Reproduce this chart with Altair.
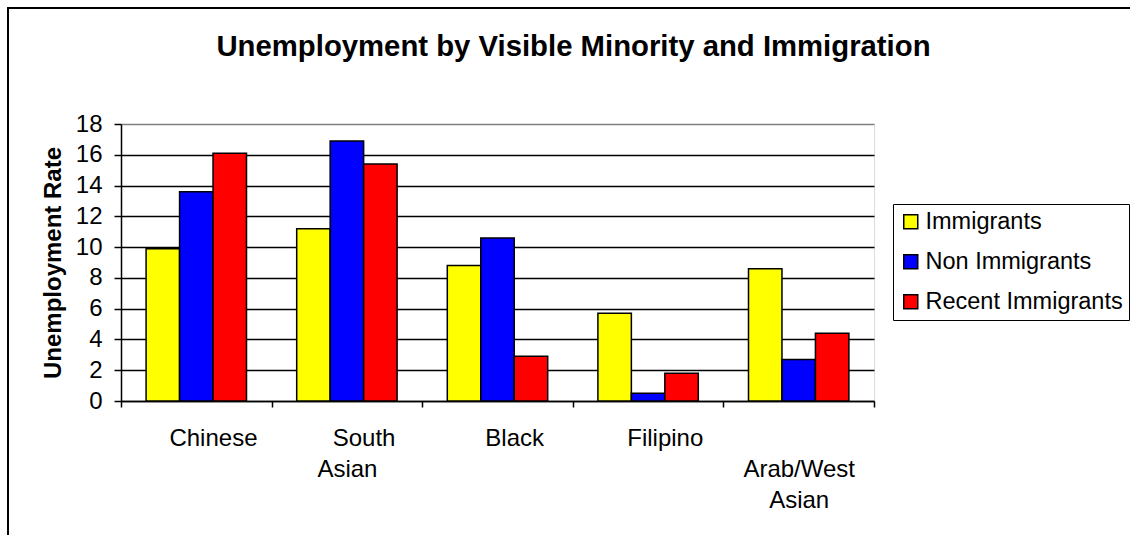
import altair as alt
import pandas as pd

categories = ["Chinese", "South Asian", "Black", "Filipino", "Arab/West Asian"]
series = ["Immigrants", "Non Immigrants", "Recent Immigrants"]
immigrants = [9.9, 11.2, 8.8, 5.7, 8.6]
non_immigrants = [13.6, 16.9, 10.6, 0.5, 2.7]
recent_immigrants = [16.1, 15.4, 2.9, 1.8, 4.4]
y_ticks = [0, 2, 4, 6, 8, 10, 12, 14, 16, 18]
colors = ["#FFFF00", "#0000FF", "#FF0000"]

rows = []
for i, c in enumerate(categories):
    for s, vals in zip(series, [immigrants, non_immigrants, recent_immigrants]):
        rows.append({"group": c, "series": s, "rate": vals[i]})
df = pd.DataFrame(rows)

W, H = 753, 277
LEFT, TOP = 121, 124
FONT = "Liberation Sans"

# zero-width space keeps the leading non-breaking spaces from being trimmed
nb = "\u200b" + "\u00a0" * 5
label_expr = (
    "!isValid(datum.value) ? '' : "
    "datum.value == 'South Asian' ? ['" + nb + "South', 'Asian'] : "
    "datum.value == 'Arab/West Asian' ? ['\u200b', 'Arab/West', 'Asian'] : '"
    + nb + "' + datum.value"
)

bars = alt.Chart(df).mark_bar(stroke="black", strokeWidth=1.5).encode(
    x=alt.X(
        "group:N", sort=categories, title=None,
        scale=alt.Scale(paddingInner=0, paddingOuter=0),
        axis=alt.Axis(
            labelExpr=label_expr, labelAngle=0, labelFontSize=24, labelFont=FONT,
            labelColor="black", labelPadding=19, labelLineHeight=31,
            labelOverlap=False, tickBand="extent", tickSize=6, tickColor="black",
            tickWidth=1.5, domainColor="black", domainWidth=1.5, grid=False,
        ),
    ),
    xOffset=alt.XOffset(
        "series:N", sort=series,
        scale=alt.Scale(paddingInner=0, paddingOuter=0.75),
    ),
    y=alt.Y(
        "rate:Q", title="Unemployment Rate",
        scale=alt.Scale(domain=[0, 18], nice=False),
        axis=alt.Axis(
            values=y_ticks, labelFontSize=24, labelFont=FONT, labelColor="black",
            labelPadding=12, tickSize=7, tickColor="black", tickWidth=1.5,
            domainColor="black", domainWidth=1.5, grid=True,
            gridColor={"condition": {"test": "datum.value >= 18", "value": "#808080"}, "value": "black"},
            gridWidth=1.5, titleFont=FONT, titleFontSize=24, titleFontWeight="bold",
            titleColor="black", titlePadding=10,
        ),
    ),
    color=alt.Color(
        "series:N", sort=series,
        scale=alt.Scale(domain=series, range=colors),
        legend=alt.Legend(
            title=None, orient="none", legendX=772, legendY=80,
            strokeColor="black", fillColor="white", padding=6,
            symbolType="square", symbolSize=196, symbolStrokeColor="black",
            symbolStrokeWidth=1.5, symbolOffset=0, labelOffset=3, labelLimit=400,
            labelFont=FONT, labelFontSize=23.5, labelColor="black", rowPadding=15,
        ),
    ),
)

frame = alt.Chart(pd.DataFrame({"frame": [0]})).mark_rect(
    fill="transparent", stroke="black", strokeWidth=2
).encode(
    x=alt.value(8 - LEFT), x2=alt.value(1160 - LEFT),
    y=alt.value(8 - TOP), y2=alt.value(560 - TOP),
)

chart = alt.layer(frame, bars).properties(
    width=W, height=H,
    title=alt.TitleParams(
        text="Unemployment by Visible Minority and Immigration",
        font=FONT, fontSize=29.3, fontWeight="bold", color="black",
        anchor="middle", frame="group", dx=76, offset=0,
        baseline="alphabetic", dy=78,
    ),
    autosize=alt.AutoSizeParams(type="none"),
    padding={"left": LEFT, "top": TOP, "right": 1130 - LEFT - W, "bottom": 535 - TOP - H},
).configure_view(
    fill="#C0C0C0", stroke="#808080", strokeWidth=1.5
).configure(background="white")

chart.save("out.html", embed_options={"renderer": "svg", "actions": False})
